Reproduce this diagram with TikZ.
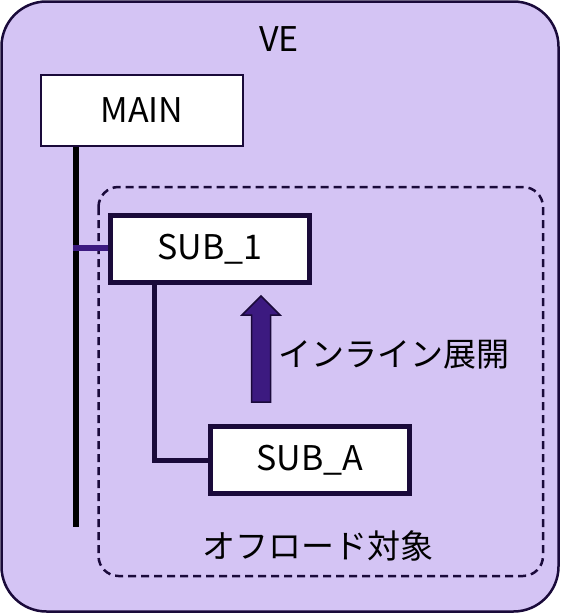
\documentclass[tikz,border=0pt]{standalone}
\usepackage{fontspec}
\setmainfont{Noto Sans CJK JP}
\definecolor{bgpurple}{HTML}{D4C4F4}
\definecolor{edgedark}{HTML}{1A0A3A}
\definecolor{arrowpurple}{HTML}{3C1A80}
\tikzset{
  box/.style={draw=edgedark, fill=white, minimum width=#1, inner sep=0pt, font=\fontsize{34}{40}\selectfont},
  thinbox/.style={box=202pt, line width=2pt, minimum height=71pt},
  thickbox/.style={box=199pt, line width=5.5pt, minimum height=67pt},
  lbl/.style={font=\fontsize{33}{38}\selectfont, inner sep=0pt, anchor=west},
}
\begin{document}
\begin{tikzpicture}[x=1pt,y=-1pt]
\useasboundingbox (0,0) rectangle (560,613);
\draw[draw=edgedark, fill=bgpurple, line width=2.5pt, rounded corners=45pt] (1.5,1.5) rectangle (558.5,611.5);
\node[font=\fontsize{34}{40}\selectfont, inner sep=0pt] (ve) at (279,39) {VE};
\node[thinbox] (main) at (142,110.5) {MAIN};
\coordinate (mainend) at (76,527);
\draw[line width=6pt, black] (main.south -| 76,0) -- (mainend);
\draw[draw=edgedark, line width=2.5pt, dash pattern=on 8pt off 5pt, rounded corners=20pt] (98.5,187) rectangle (543,576);
\coordinate (tap) at (73,248);
\node[thickbox] (sub1) at (210,249) {SUB\_1};
\draw[arrowpurple, line width=6pt] (tap) -- (tap -| sub1.west);
\node[thickbox] (suba) at (310,460) {SUB\_A};
\draw[edgedark, line width=5pt] (sub1.south -| 154,0) |- (suba.west);
\coordinate (atip) at (261,296);
\draw[draw=edgedark, fill=arrowpurple, line width=1.5pt, line join=miter]
  (atip) -- ++(19,19) -- ++(-9.5,0) -- ++(0,87) -- ++(-19,0) -- ++(0,-87) -- ++(-9.5,0) -- cycle;
\node[lbl] (inl) at (278,355) {インライン展開};
\node[lbl] (off) at (202,546) {オフロード対象};
\end{tikzpicture}
\end{document}
